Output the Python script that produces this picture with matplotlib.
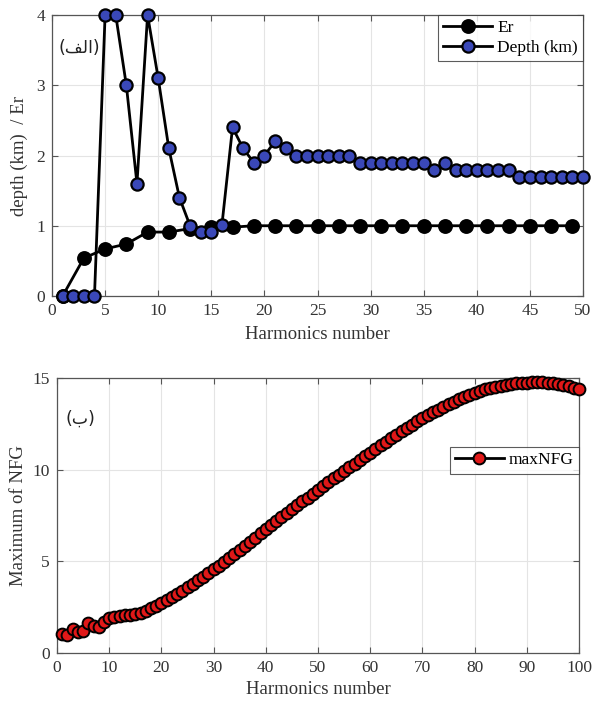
import matplotlib
matplotlib.use("Agg")
import matplotlib.pyplot as plt
import numpy as np

# ---- data: top panel ----
er_x = [1, 3, 5, 7, 9, 11, 13, 15, 17, 19, 21, 23, 25, 27, 29, 31, 33, 35, 37, 39, 41, 43, 45, 47, 49]
er_y = [0.0, 0.54, 0.67, 0.74, 0.91, 0.91, 0.96, 0.98, 0.98, 1.0, 1.0, 1.0, 1.0, 1.0, 1.0, 1.0,
        1.0, 1.0, 1.0, 1.0, 1.0, 1.0, 1.0, 1.0, 1.0]

depth_x = list(range(1, 51))
depth_y = [0, 0, 0, 0, 4.0, 4.0, 3.0, 1.6, 4.0, 3.1,
           2.1, 1.4, 1.0, 0.91, 0.91, 1.01, 2.4, 2.1, 1.9, 2.0,
           2.2, 2.1, 2.0, 2.0, 2.0, 2.0, 2.0, 2.0, 1.9, 1.9,
           1.9, 1.9, 1.9, 1.9, 1.9, 1.8, 1.9, 1.8, 1.8, 1.8,
           1.8, 1.8, 1.8, 1.7, 1.7, 1.7, 1.7, 1.7, 1.7, 1.7]

# ---- data: bottom panel ----
nfg_x = list(range(1, 101))
nfg_y = [1.05, 1.00, 1.33, 1.15, 1.20, 1.62, 1.50, 1.42, 1.68, 1.90,
         1.96, 2.00, 2.05, 2.09, 2.14, 2.20, 2.31, 2.44, 2.58, 2.73,
         2.88, 3.04, 3.21, 3.39, 3.58, 3.77, 3.96, 4.16, 4.36, 4.56,
         4.77, 4.98, 5.20, 5.42, 5.64, 5.86, 6.08, 6.30, 6.52, 6.74,
         6.96, 7.18, 7.40, 7.62, 7.84, 8.06, 8.27, 8.48, 8.69, 8.90,
         9.11, 9.32, 9.53, 9.73, 9.93, 10.13, 10.33, 10.53, 10.73, 10.93,
         11.13, 11.33, 11.53, 11.72, 11.91, 12.10, 12.28, 12.46, 12.63, 12.80,
         12.96, 13.12, 13.27, 13.42, 13.56, 13.70, 13.83, 13.96, 14.08, 14.19,
         14.29, 14.38, 14.46, 14.53, 14.59, 14.64, 14.68, 14.71, 14.73, 14.75,
         14.76, 14.77, 14.76, 14.74, 14.71, 14.67, 14.62, 14.55, 14.47, 14.38]

top_xticks = [0, 5, 10, 15, 20, 25, 30, 35, 40, 45, 50]
top_yticks = [0, 1, 2, 3, 4]
bot_xticks = [0, 10, 20, 30, 40, 50, 60, 70, 80, 90, 100]
bot_yticks = [0, 5, 10, 15]

plt.rcParams['font.family'] = ['Liberation Serif', 'DejaVu Sans']

fig = plt.figure(figsize=(5.92, 7.04), dpi=100)
ax1 = fig.add_axes([52/592, 1 - 296/704, 531/592, 281/704])
ax2 = fig.add_axes([57/592, 1 - 653/704, 522/592, 275/704])


def style(ax):
    ax.grid(True, color='#e4e4e4', linewidth=0.8)
    ax.set_axisbelow(True)
    for s in ax.spines.values():
        s.set_color('#555555')
        s.set_linewidth(0.9)
    ax.tick_params(direction='in', length=4, width=0.8, color='#555555',
                   labelsize=12.5, labelcolor='#333333', top=True, right=True, pad=5)


# top panel
ax1.plot(er_x, er_y, '-o', color='black', linewidth=2.0, markersize=9.5,
         markerfacecolor='black', markeredgecolor='black', markeredgewidth=1.2,
         label='Er', clip_on=False, zorder=3)
ax1.plot(depth_x, depth_y, '-o', color='black', linewidth=2.0, markersize=8.8,
         markerfacecolor='#3a48b8', markeredgecolor='black', markeredgewidth=1.6,
         label='Depth (km)', clip_on=False, zorder=4)
ax1.set_xlim(0, 50)
ax1.set_ylim(0, 4)
ax1.set_xticks(top_xticks)
ax1.set_yticks(top_yticks)
style(ax1)
ax1.set_xlabel('Harmonics number', fontsize=13.5, color='#333333', labelpad=5)
ax1.set_ylabel('depth (km)  / Er', fontsize=13.5, color='#333333', labelpad=6)
leg1 = ax1.legend(loc='upper right', fontsize=12.5, frameon=True, fancybox=False,
                  borderaxespad=0, handlelength=2.8, borderpad=0.3, labelspacing=0.2,
                  handletextpad=0.3)
leg1.get_frame().set_edgecolor('#333333')
leg1.get_frame().set_linewidth(0.8)
ax1.text(2.6, 3.53, '(\ufed2\ufedf\ufe8d)', fontsize=12.5, ha='center', va='center',
         color='#222222', family=['DejaVu Sans'])

# bottom panel
ax2.plot(nfg_x, nfg_y, '-o', color='black', linewidth=2.0, markersize=8.5,
         markerfacecolor='#e01818', markeredgecolor='black', markeredgewidth=1.4,
         label='maxNFG', clip_on=False, zorder=3)
ax2.set_xlim(0, 100)
ax2.set_ylim(0, 15)
ax2.set_xticks(bot_xticks)
ax2.set_yticks(bot_yticks)
style(ax2)
ax2.set_xlabel('Harmonics number', fontsize=13.5, color='#333333', labelpad=4)
ax2.set_ylabel('Maximum of NFG', fontsize=13.5, color='#333333', labelpad=4)
leg2 = ax2.legend(loc='upper right', bbox_to_anchor=(1.0, 1 - 69/275), fontsize=12.5,
                  frameon=True, fancybox=False, borderaxespad=0, handlelength=2.8,
                  borderpad=0.3, handletextpad=0.3)
leg2.get_frame().set_edgecolor('#333333')
leg2.get_frame().set_linewidth(0.8)
ax2.text(4.4, 12.8, '(\ufe8f)', fontsize=12.5, ha='center', va='center',
         color='#222222', family=['DejaVu Sans'])

fig.savefig('out.png', dpi=100)
